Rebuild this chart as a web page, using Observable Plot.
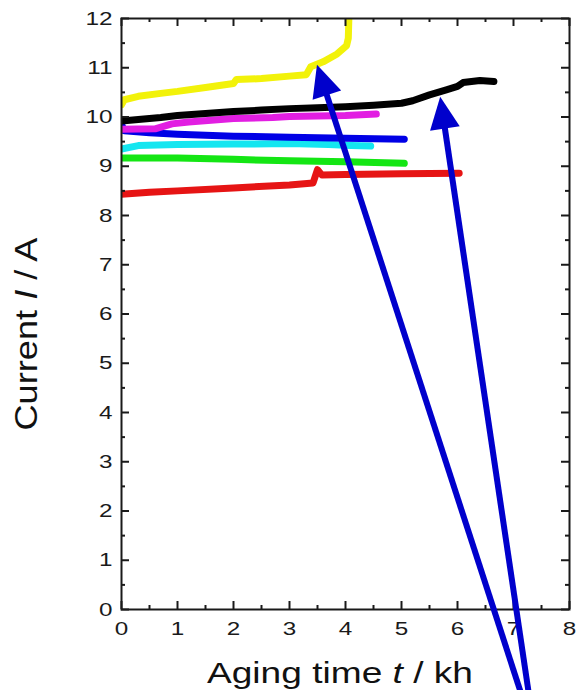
<!DOCTYPE html>
<html>
<head>
<meta charset="utf-8">
<script src="https://cdn.jsdelivr.net/npm/d3@7"></script>
<script src="https://cdn.jsdelivr.net/npm/@observablehq/plot@0.6"></script>
<style>
  html, body { margin: 0; padding: 0; background: #fff; }
  #chart svg { display: block; overflow: visible; }
</style>
</head>
<body>
<div id="chart"></div>
<script>
// ---- data ----
const seriesNames  = ["cell 1", "cell 2", "cell 3", "cell 4", "cell 5", "cell 6", "cell 7"];
const seriesColors = ["#e61414", "#14e614", "#14e6f0", "#0000e6", "#e21ee2", "#000000", "#f2f20a"];

const redT     = [0, 0.5, 1.0, 2.0, 3.0, 3.42, 3.5, 3.58, 4.0, 5.0, 6.03];
const redI     = [8.43, 8.47, 8.50, 8.56, 8.62, 8.66, 8.93, 8.82, 8.83, 8.85, 8.86];

const greenT   = [0, 1.0, 2.0, 3.0, 4.0, 5.05];
const greenI   = [9.17, 9.17, 9.14, 9.11, 9.09, 9.06];

const cyanT    = [0, 0.3, 1.0, 2.0, 3.0, 3.7, 4.1, 4.45];
const cyanI    = [9.35, 9.42, 9.44, 9.45, 9.46, 9.44, 9.42, 9.41];

const blueT    = [0, 0.05, 0.5, 1.0, 1.5, 2.0, 3.0, 4.0, 5.05];
const blueI    = [9.85, 9.72, 9.68, 9.65, 9.63, 9.61, 9.59, 9.57, 9.55];

const magentaT = [0, 0.6, 0.9, 1.2, 2.0, 2.7, 3.0, 3.5, 4.0, 4.55];
const magentaI = [9.75, 9.76, 9.86, 9.90, 9.97, 9.99, 10.01, 10.02, 10.03, 10.06];

const blackT   = [0, 0.3, 0.7, 1.0, 1.5, 2.0, 2.5, 3.0, 3.5, 4.0, 4.5, 5.0, 5.2, 5.5, 5.8, 6.0, 6.1, 6.4, 6.65];
const blackI   = [9.92, 9.95, 9.99, 10.03, 10.07, 10.11, 10.14, 10.17, 10.19, 10.21, 10.24, 10.28, 10.33, 10.45, 10.55, 10.62, 10.70, 10.74, 10.72];

const yellowT  = [0, 0.05, 0.3, 0.7, 1.0, 1.5, 2.0, 2.05, 2.5, 3.0, 3.3, 3.38, 3.6, 3.85, 4.02, 4.05, 4.06];
const yellowI  = [10.25, 10.35, 10.42, 10.48, 10.52, 10.60, 10.68, 10.76, 10.78, 10.83, 10.86, 11.02, 11.12, 11.28, 11.45, 11.60, 12.0];

// axis ticks
const xMajorTicks = [0, 1, 2, 3, 4, 5, 6, 7, 8];
const xMinorTicks = [0.5, 1.5, 2.5, 3.5, 4.5, 5.5, 6.5, 7.5];
const yMajorTicks = [0, 1, 2, 3, 4, 5, 6, 7, 8, 9, 10, 11, 12];
const yMinorTicks = [0.5, 1.5, 2.5, 3.5, 4.5, 5.5, 6.5, 7.5, 8.5, 9.5, 10.5, 11.5];

// annotation arrows (tail -> tip, in data units)
const arrowTailT = [7.14, 7.28];
const arrowTailI = [-1.70, -1.70];
const arrowTipT  = [3.50, 5.70];
const arrowTipI  = [11.05, 10.40];

// ---- build rows ----
const seriesT = [redT, greenT, cyanT, blueT, magentaT, blackT, yellowT];
const seriesI = [redI, greenI, cyanI, blueI, magentaI, blackI, yellowI];
const rows = [];
seriesNames.forEach((s, k) => {
  seriesT[k].forEach((t, i) => rows.push({series: s, t, I: seriesI[k][i]}));
});

const W = 578, H = 690, mL = 121, mR = 9, mT = 18, mB = 81;
const innerW = W - mL - mR, innerH = H - mT - mB;
const majorLen = 8, minorLen = 4;
const tickStyle = {stroke: "#1a1a1a", strokeWidth: 2};

const plot = Plot.plot({
  width: W,
  height: H,
  marginLeft: mL,
  marginRight: mR,
  marginTop: mT,
  marginBottom: mB,
  style: {fontFamily: "'Liberation Sans', Arial, sans-serif", fontSize: "19px", color: "#1a1a1a", background: "#fff"},
  x: {domain: [0, 8], axis: null},
  y: {domain: [0, 12], axis: null},
  color: {type: "ordinal", domain: seriesNames, range: seriesColors},
  marks: [
    Plot.line(rows, {x: "t", y: "I", z: "series", stroke: "series", strokeWidth: 7, strokeLinejoin: "round", clip: true}),
    Plot.frame({stroke: "#1a1a1a", strokeWidth: 2}),
    // inward ticks on all four sides
    Plot.tickX(xMajorTicks, {x: d => d, insetTop: innerH - majorLen, ...tickStyle}),
    Plot.tickX(xMinorTicks, {x: d => d, insetTop: innerH - minorLen, ...tickStyle}),
    Plot.tickX(xMajorTicks, {x: d => d, insetBottom: innerH - majorLen, ...tickStyle}),
    Plot.tickX(xMinorTicks, {x: d => d, insetBottom: innerH - minorLen, ...tickStyle}),
    Plot.tickY(yMajorTicks, {y: d => d, insetRight: innerW - majorLen, ...tickStyle}),
    Plot.tickY(yMinorTicks, {y: d => d, insetRight: innerW - minorLen, ...tickStyle}),
    Plot.tickY(yMajorTicks, {y: d => d, insetLeft: innerW - majorLen, ...tickStyle}),
    Plot.tickY(yMinorTicks, {y: d => d, insetLeft: innerW - minorLen, ...tickStyle}),
    // tick labels
    Plot.text(xMajorTicks, {x: d => d, y: 0, dy: 19.5, text: d => String(d), lineAnchor: "middle", textAnchor: "middle", fill: "#1a1a1a"}),
    Plot.text(yMajorTicks, {x: 0, y: d => d, dx: -9, text: d => String(d), lineAnchor: "middle", textAnchor: "end", fill: "#1a1a1a"})
  ]
});

document.getElementById("chart").appendChild(plot);
const svg = d3.select(plot);

// widen tick label glyphs like the reference
svg.selectAll("text").each(function () {
  const txt = this.textContent;
  if (!txt) return;
  const len = this.getComputedTextLength();
  if (len > 0) {
    d3.select(this).attr("textLength", (len * 1.28).toFixed(1)).attr("lengthAdjust", "spacingAndGlyphs");
  }
});

// scales from the plot
const xsc = plot.scale("x"), ysc = plot.scale("y");
const X = d3.scaleLinear().domain(xsc.domain).range(xsc.range);
const Y = d3.scaleLinear().domain(ysc.domain).range(ysc.range);

// axis titles
const xt = svg.append("text")
  .attr("x", 340).attr("y", 683)
  .attr("text-anchor", "middle")
  .attr("font-size", 30)
  .attr("fill", "#111")
  .attr("textLength", 266).attr("lengthAdjust", "spacingAndGlyphs");
xt.append("tspan").text("Aging time ");
xt.append("tspan").attr("font-style", "italic").text("t");
xt.append("tspan").text(" / kh");

const yt = svg.append("text")
  .attr("transform", "translate(37,334) rotate(-90)")
  .attr("text-anchor", "middle")
  .attr("font-size", 31)
  .attr("fill", "#111")
  .attr("textLength", 193).attr("lengthAdjust", "spacingAndGlyphs");
yt.append("tspan").text("Current ");
yt.append("tspan").attr("font-style", "italic").text("I");
yt.append("tspan").text(" / A");

// arrows with filled heads
const headLen = 32, headHalf = 15;
const ag = svg.append("g").attr("aria-label", "arrows");
arrowTipT.forEach((_, i) => {
  const x1 = X(arrowTailT[i]), y1 = Y(arrowTailI[i]);
  const x2 = X(arrowTipT[i]), y2 = Y(arrowTipI[i]);
  const dx = x2 - x1, dy = y2 - y1, L = Math.hypot(dx, dy);
  const ux = dx / L, uy = dy / L;
  const bx = x2 - ux * headLen, by = y2 - uy * headLen;
  ag.append("line")
    .attr("x1", x1).attr("y1", y1)
    .attr("x2", bx + ux * 2).attr("y2", by + uy * 2)
    .attr("stroke", "#0000cc").attr("stroke-width", 6);
  ag.append("polygon")
    .attr("points", [
      [x2, y2],
      [bx - uy * headHalf, by + ux * headHalf],
      [bx + uy * headHalf, by - ux * headHalf]
    ].map(p => p.join(",")).join(" "))
    .attr("fill", "#0000cc");
});
</script>
</body>
</html>
